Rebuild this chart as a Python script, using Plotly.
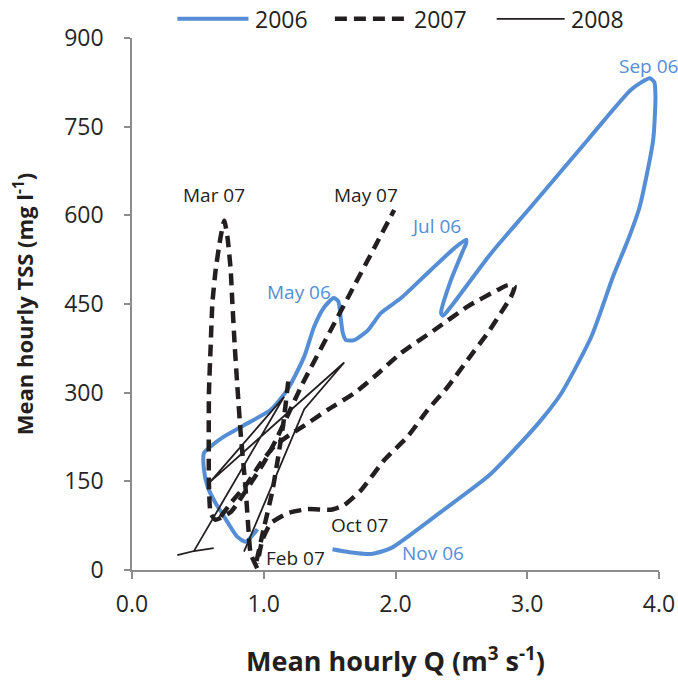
import plotly.graph_objects as go

# ---------------- data ----------------
q_2006 = [0.952, 0.863, 0.80, 0.70, 0.635, 0.575, 0.546, 0.546, 0.597, 0.70, 0.85, 1.053,
          1.18, 1.307, 1.383, 1.46, 1.53, 1.565, 1.585, 1.60, 1.624, 1.687, 1.788, 1.89,
          2.042, 2.27, 2.45, 2.536, 2.535, 2.51, 2.42, 2.346, 2.36, 2.422, 2.726, 3.03,
          3.46, 3.79, 3.93, 3.965, 3.973, 3.956, 3.854, 3.766, 3.652, 3.487, 3.259, 3.106,
          2.853, 2.70, 2.295, 1.966, 1.814, 1.65, 1.522]
tss_2006 = [69, 48, 56, 90, 113, 140, 170, 198, 209, 226, 245, 271,
            305, 361, 412, 445, 460, 455, 425, 401, 389, 389, 405, 435,
            460, 508, 545, 559, 552, 539, 490, 435, 430, 446, 536, 615,
            728, 813, 832, 825, 800, 728, 615, 559, 497, 395, 299, 254,
            192, 158, 90, 37, 27, 30, 35]

q_2007 = [0.95, 0.90, 0.888, 0.863, 0.825, 0.80, 0.78, 0.762, 0.749, 0.724, 0.70, 0.673,
          0.635, 0.61, 0.597, 0.584, 0.584, 0.597, 0.635, 0.749, 0.876, 1.002, 1.104,
          1.294, 1.535, 1.687, 1.839, 1.99,
          None,
          0.673, 0.749, 0.876, 0.977, 1.078, 1.18, 1.332, 1.485, 1.687, 1.839, 2.042,
          2.295, 2.549, 2.777, 2.853, 2.904, 2.878, 2.80, 2.70, 2.549, 2.397, 2.245,
          2.093, 1.915, 1.738, 1.611, 1.51, 1.332, 1.18, 1.053, 0.99, 0.952,
          None,
          0.945, 1.0, 1.065, 1.11, 1.15, 1.19]
tss_2007 = [3, 28, 56, 135, 231, 310, 378, 451, 508, 564, 591, 564,
            508, 451, 378, 300, 147, 96, 85, 98, 138, 182, 225,
            315, 417, 481, 545, 609,
            None,
            90, 113, 147, 181, 209, 226, 248, 271, 299, 327, 367,
            406, 446, 474, 482, 480, 463, 435, 401, 356, 310, 271,
            226, 186, 135, 110, 102, 103, 96, 79, 51, 11,
            None,
            15, 70, 133, 192, 250, 327]

q_2008 = [0.344, 0.47, 1.154, 0.597, 1.611, 1.307, 0.85, None, 0.47, 0.62]
tss_2008 = [25, 32, 293, 150, 351, 272, 31, None, 32, 37]

label_text = ["Mar 07", "May 07", "May 06", "Jul 06", "Sep 06", "Nov 06", "Oct 07", "Feb 07"]
label_q = [0.62, 1.776, 1.266, 2.308, 3.92, 2.285, 1.73, 1.243]
label_tss = [635, 635, 470, 582, 853, 29, 76, 20]
label_year = ["2007", "2007", "2006", "2006", "2006", "2006", "2007", "2007"]

series_names = ["2006", "2007", "2008"]
y_ticks = [0, 150, 300, 450, 600, 750, 900]
x_ticks = [0, 1, 2, 3, 4]

# ---------------- styles ----------------
BLUE = "#558ED5"
BLACK = "#231F20"
GRAY = "#8C8C8C"
FONT = "Open Sans"

fig = go.Figure()
fig.add_trace(go.Scatter(x=q_2006, y=tss_2006, mode="lines", name=series_names[0],
                         line=dict(color=BLUE, width=4, shape="spline", smoothing=0.6)))
fig.add_trace(go.Scatter(x=q_2007, y=tss_2007, mode="lines", name=series_names[1],
                         line=dict(color=BLACK, width=4.5, dash="12px,7px",
                                   shape="spline", smoothing=0.5)))
fig.add_trace(go.Scatter(x=q_2008, y=tss_2008, mode="lines", name=series_names[2],
                         line=dict(color=BLACK, width=1.8)))

for t, q, s, yr in zip(label_text, label_q, label_tss, label_year):
    fig.add_annotation(x=q, y=s, text=t, showarrow=False,
                       font=dict(family=FONT, size=19,
                                 color=BLUE if yr == "2006" else BLACK))

# custom legend (line samples + text) above the plot area
legend_items = [(series_names[0], BLUE, 4, "solid", 0.086, 0.221),
                (series_names[1], BLACK, 4.5, "12px,7px", 0.385, 0.524),
                (series_names[2], BLACK, 1.8, "solid", 0.692, 0.821)]
for name, col, w, dash, x0, x1 in legend_items:
    fig.add_shape(type="line", xref="paper", yref="paper", x0=x0, x1=x1,
                  y0=1.036, y1=1.036, line=dict(color=col, width=w, dash=dash))
    fig.add_annotation(xref="paper", yref="paper", x=x1 + 0.008, y=1.036,
                       xanchor="left", yanchor="middle", text=name, showarrow=False,
                       font=dict(family=FONT, size=23, color=BLACK))

fig.update_layout(
    width=678, height=689,
    margin=dict(l=131.5, r=18.5, t=38, b=119),
    paper_bgcolor="white", plot_bgcolor="white",
    showlegend=False,
    font=dict(family=FONT, color="#262626"),
)
fig.update_xaxes(
    range=[0, 4], tickvals=x_ticks, tickformat=".1f",
    showline=True, linecolor=GRAY, linewidth=1.5, showgrid=False, zeroline=False,
    ticks="outside", ticklen=7, tickcolor=GRAY, tickwidth=1.5,
    tickfont=dict(family=FONT, size=23, color="#262626"),
    ticklabelstandoff=6,
    title=dict(text="<b>Mean hourly Q (m<sup>3</sup> s<sup>-1</sup>)</b>",
               font=dict(family=FONT, size=27, color=BLACK), standoff=34),
    automargin=False,
)
fig.update_yaxes(
    range=[0, 900], tickvals=y_ticks,
    showline=True, linecolor=GRAY, linewidth=1.5, showgrid=False, zeroline=False,
    ticks="outside", ticklen=6, tickcolor=GRAY, tickwidth=1.5,
    tickfont=dict(family=FONT, size=23, color="#262626"),
    ticklabelstandoff=16,
    title=dict(text="<b>Mean hourly TSS (mg l<sup>-1</sup>)</b>",
               font=dict(family=FONT, size=22, color=BLACK), standoff=24),
    automargin=False,
)

fig.write_html("out.html")
